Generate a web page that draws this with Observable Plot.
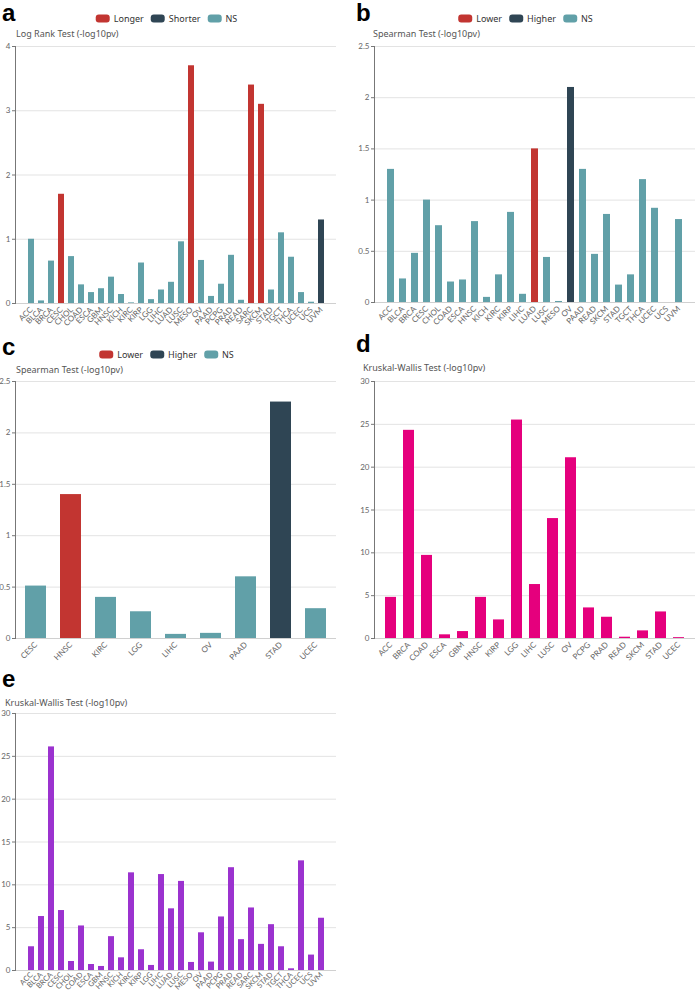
<!DOCTYPE html>
<html><head><meta charset="utf-8">
<script src="https://cdn.jsdelivr.net/npm/d3@7"></script>
<script src="https://cdn.jsdelivr.net/npm/@observablehq/plot@0.6"></script>
<style>
body{margin:0;background:#fff;}
#root{position:relative;width:696px;height:992px;overflow:hidden;font-family:"Noto Sans",sans-serif;background:#fff;}
.abs{position:absolute;}
.letter{font-family:"Liberation Sans",Arial,sans-serif;font-weight:bold;font-size:24px;color:#000;line-height:1;}
.sub{font-size:9px;color:#555;line-height:1;white-space:nowrap;}
.legend{display:flex;align-items:center;font-size:9px;color:#333;line-height:1;white-space:nowrap;transform:translate(-50%,-50%);}
.sw{display:inline-block;width:14px;height:8px;border-radius:3px;margin-right:4px;}
.item{display:flex;align-items:center;margin-right:7px;}
svg{overflow:visible;}
</style></head><body><div id="root"></div>
<script>
// ---------- data ----------
const catsA = ["ACC","BLCA","BRCA","CESC","CHOL","COAD","ESCA","GBM","HNSC","KICH","KIRC","KIRP","LGG","LIHC","LUAD","LUSC","MESO","OV","PAAD","PCPG","PRAD","READ","SARC","SKCM","STAD","TGCT","THCA","UCEC","UCS","UVM"];
const valsA = [1.0,0.04,0.66,1.7,0.73,0.29,0.17,0.23,0.41,0.14,0.01,0.63,0.06,0.21,0.33,0.96,3.7,0.67,0.11,0.30,0.75,0.05,3.4,3.1,0.21,1.1,0.72,0.17,0.02,1.3];
const statA = ["NS","NS","NS","Longer","NS","NS","NS","NS","NS","NS","NS","NS","NS","NS","NS","NS","Longer","NS","NS","NS","NS","NS","Longer","Longer","NS","NS","NS","NS","NS","Shorter"];

const catsB = ["ACC","BLCA","BRCA","CESC","CHOL","COAD","ESCA","HNSC","KICH","KIRC","KIRP","LIHC","LUAD","LUSC","MESO","OV","PAAD","READ","SKCM","STAD","TGCT","THCA","UCEC","UCS","UVM"];
const valsB = [1.3,0.23,0.48,1.0,0.75,0.2,0.22,0.79,0.05,0.27,0.88,0.08,1.5,0.44,0.01,2.1,1.3,0.47,0.86,0.17,0.27,1.2,0.92,0.0,0.81];
const statB = ["NS","NS","NS","NS","NS","NS","NS","NS","NS","NS","NS","NS","Lower","NS","NS","Higher","NS","NS","NS","NS","NS","NS","NS","NS","NS"];

const catsC = ["CESC","HNSC","KIRC","LGG","LIHC","OV","PAAD","STAD","UCEC"];
const valsC = [0.51,1.4,0.40,0.26,0.04,0.05,0.6,2.3,0.29];
const statC = ["NS","Lower","NS","NS","NS","NS","NS","Higher","NS"];

const catsD = ["ACC","BRCA","COAD","ESCA","GBM","HNSC","KIRP","LGG","LIHC","LUSC","OV","PCPG","PRAD","READ","SKCM","STAD","UCEC"];
const valsD = [4.8,24.3,9.7,0.43,0.81,4.8,2.17,25.5,6.3,14.0,21.1,3.57,2.48,0.15,0.89,3.1,0.1];

const catsE = ["ACC","BLCA","BRCA","CESC","CHOL","COAD","ESCA","GBM","HNSC","KICH","KIRC","KIRP","LGG","LIHC","LUAD","LUSC","MESO","OV","PAAD","PCPG","PRAD","READ","SARC","SKCM","STAD","TGCT","THCA","UCEC","UCS","UVM"];
const valsE = [2.77,6.3,26.1,7.0,1.05,5.2,0.7,0.47,3.95,1.48,11.4,2.42,0.59,11.2,7.2,10.4,0.94,4.4,0.98,6.25,12.0,3.6,7.3,3.05,5.35,2.77,0.2,12.8,1.8,6.1];

const legendA = ["Longer","Shorter","NS"];
const legendBC = ["Lower","Higher","NS"];
const statusColors = ["#c23531","#2f4554","#61a0a8"];
const colorD = "#e5007d";
const colorE = "#9b32cf";

const ticks4 = [0,1,2,3,4];
const ticks25 = [0,0.5,1,1.5,2,2.5];
const ticks30 = [0,5,10,15,20,25,30];

// ---------- helpers ----------
const root = document.getElementById("root");
function addDiv(cls, left, top, html){
  const d = document.createElement("div");
  d.className = "abs " + cls;
  d.style.left = left + "px"; d.style.top = top + "px";
  d.innerHTML = html;
  root.appendChild(d);
  return d;
}
function legend(x, y, names){
  const html = names.map((n,i)=>`<span class="item"><span class="sw" style="background:${statusColors[i]}"></span>${n}</span>`).join("");
  addDiv("legend", x, y, html);
}
function panel(o){
  const data = o.cats.map((c,i)=>({cat:c, value:o.values[i], status:o.status ? o.status[i] : null}));
  const ml = o.axisX - o.left, mr = o.left + o.w - o.rightX, mt = o.yTop - o.top, mb = o.top + o.h - o.y0;
  const fill = o.status ? "status" : o.color;
  const chart = Plot.plot({
    width:o.w, height:o.h, marginLeft:ml, marginRight:mr, marginTop:mt, marginBottom:mb,
    style:{fontFamily:"Lato, 'Noto Sans', sans-serif", fontSize:"8px", color:"#666", background:"transparent", overflow:"visible"},
    x:{domain:o.cats, paddingInner:0.4, paddingOuter:0.2, label:null},
    y:{domain:[0,o.ticks[o.ticks.length-1]], label:null},
    color: o.status ? {domain:o.legend, range:statusColors} : undefined,
    marks:[
      Plot.gridY(o.ticks, {stroke:"#e3e3e3", strokeOpacity:1}),
      Plot.barY(data,{x:"cat", y:"value", fill}),
      Plot.ruleY([0],{stroke:"#d0d0d0"}),
      Plot.frame({anchor:"left", stroke:"#777"}),
      Plot.axisY(o.ticks, {tickSize:3, tickPadding:2, label:null, stroke:"#777", fill:"#666", tickFormat: d=>String(d)}),
      Plot.axisX({tickRotate:-45, tickSize:0, tickPadding:o.xpad ?? 5, fontSize:o.xfs ?? 8, label:null, fill:"#666"})
    ]
  });
  chart.style.position = "absolute";
  chart.style.left = o.left + "px";
  chart.style.top = o.top + "px";
  root.appendChild(chart);
}

// ---------- panel a ----------
addDiv("letter", 2, 1, "a");
legend(170, 18, legendA);
addDiv("sub", 16, 29, "Log Rank Test (-log10pv)");
panel({cats:catsA, values:valsA, status:statA, legend:legendA, ticks:ticks4,
  left:0, top:36, w:348, h:290, axisX:15, rightX:336, yTop:46, y0:303});

// ---------- panel b ----------
addDiv("letter", 356, 1, "b");
legend(529, 18, legendBC);
addDiv("sub", 373, 29, "Spearman Test (-log10pv)");
panel({cats:catsB, values:valsB, status:statB, legend:legendBC, ticks:ticks25,
  left:348, top:36, w:348, h:290, axisX:374, rightX:695, yTop:46, y0:302});

// ---------- panel c ----------
addDiv("letter", 2, 335, "c");
legend(170, 354, legendBC);
addDiv("sub", 16, 365, "Spearman Test (-log10pv)");
panel({cats:catsC, values:valsC, status:statC, legend:legendBC, ticks:ticks25,
  left:0, top:371, w:348, h:300, axisX:15, rightX:336, yTop:381, y0:638});

// ---------- panel d ----------
addDiv("letter", 356, 332, "d");
addDiv("sub", 363, 363, "Kruskal-Wallis Test (-log10pv)");
panel({cats:catsD, values:valsD, color:colorD, ticks:ticks30,
  left:348, top:371, w:348, h:300, axisX:374, rightX:695, yTop:381, y0:638});

// ---------- panel e ----------
addDiv("letter", 2, 667, "e");
addDiv("sub", 5, 698, "Kruskal-Wallis Test (-log10pv)");
panel({cats:catsE, values:valsE, color:colorE, ticks:ticks30, xpad:3, xfs:7.5,
  left:0, top:703, w:348, h:289, axisX:15, rightX:336, yTop:713, y0:970});
</script></body></html>
